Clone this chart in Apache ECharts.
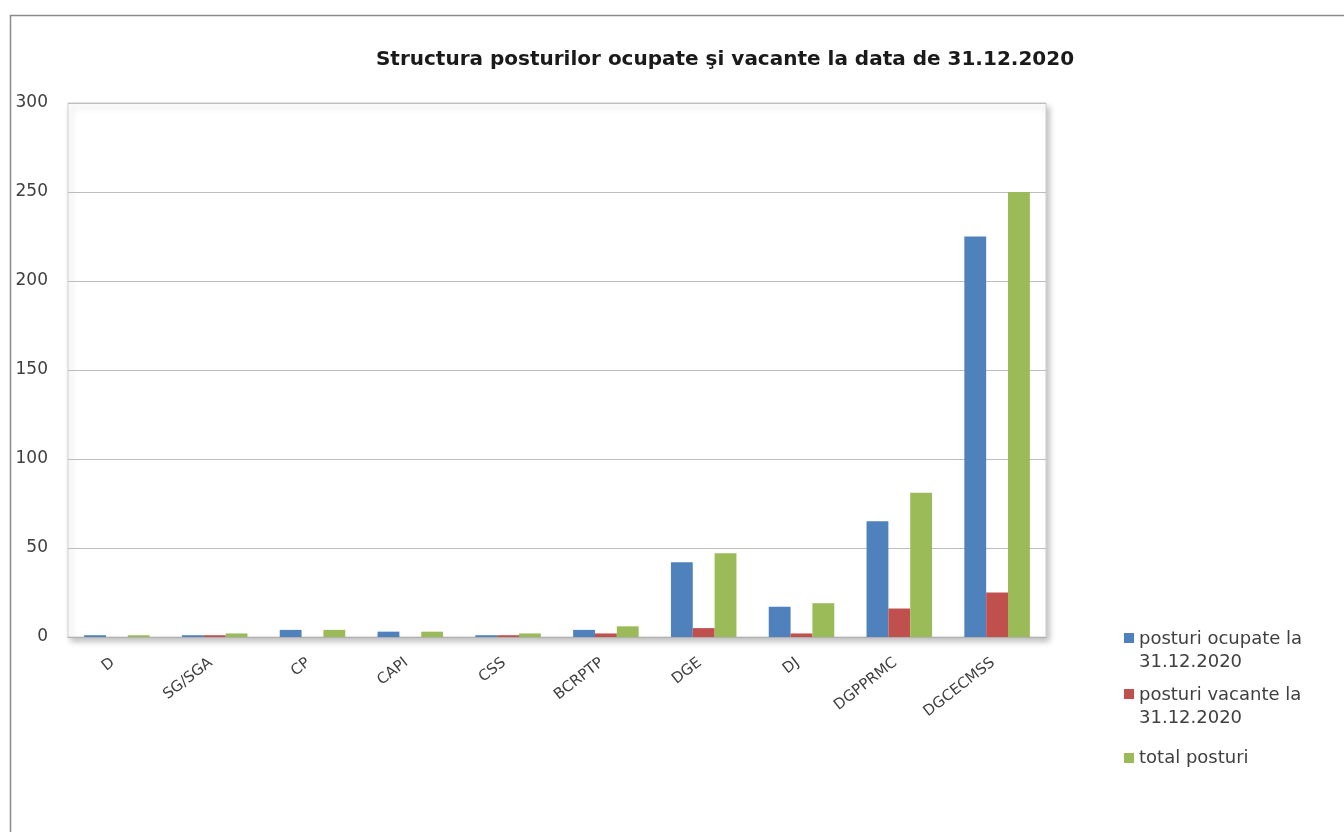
<!DOCTYPE html>
<html>
<head>
<meta charset="utf-8">
<script src="https://cdn.jsdelivr.net/npm/echarts@6/dist/echarts.min.js"></script>
<style>html,body{margin:0;padding:0;background:#fff;}#c{width:1344px;height:832px;}</style>
</head>
<body>
<div id="c"></div>
<script>
const categories = ['D','SG/SGA','CP','CAPI','CSS','BCRPTP','DGE','DJ','DGPPRMC','DGCECMSS'];
const ocupate = [1,1,4,3,1,4,42,17,65,225];
const vacante = [0,1,0,0,1,2,5,2,16,25];
const total = [1,2,4,3,2,6,47,19,81,250];
const yTicks = [0,50,100,150,200,250,300];
const seriesNames = ['posturi ocupate la 31.12.2020','posturi vacante la 31.12.2020','total posturi'];
const colors = ['#4F81BD','#C0504D','#9BBB59'];

// legend marker: square at top of a tall (invisible) box for two-line items
const topSquare = 'path://M0,0L10,0L10,10L0,10Z M0,36L0.01,36';
const midSquare = 'path://M0,13L10,13L10,23L0,23Z M0,0L0.01,0 M0,36L0.01,36';

const chart = echarts.init(document.getElementById('c'));
const font = '"DejaVu Sans", sans-serif';
chart.setOption({
  animation: false,
  backgroundColor: '#fff',
  graphic: [{
    type: 'rect', left: 8, top: 13, shape: {width: 1345, height: 830},
    style: {fill: 'none', stroke: '#8a8a8a', lineWidth: 1.5}, z: -1
  }],
  title: {
    text: 'Structura posturilor ocupate şi vacante la data de 31.12.2020',
    left: 720, top: 45, textAlign: 'center',
    textStyle: {fontFamily: font, fontWeight: 'bold', fontSize: 20, color: '#1a1a1a'}
  },
  legend: {
    orient: 'vertical', left: 1119, top: 623, itemWidth: 10, itemHeight: 36, itemGap: 10,
    data: [
      {name: seriesNames[0], icon: topSquare},
      {name: seriesNames[1], icon: topSquare},
      {name: seriesNames[2], icon: midSquare}
    ],
    formatter: n => n.replace(' la ', ' la\n'),
    textStyle: {fontFamily: font, fontSize: 18, color: '#404040', lineHeight: 23}
  },
  grid: {
    left: 68, right: 298, top: 103, bottom: 195, containLabel: false,
    show: true, backgroundColor: '#fff', borderColor: '#d0d0d0', borderWidth: 1,
    shadowColor: 'rgba(0,0,0,0.25)', shadowBlur: 6, shadowOffsetX: 3, shadowOffsetY: 4
  },
  xAxis: {
    type: 'category', data: categories,
    axisLine: {show: true, lineStyle: {color: '#b0b0b0'}},
    axisTick: {show: false},
    axisLabel: {rotate: 38, margin: 21, padding: [0, 5, 0, 0], interval: 0, fontFamily: font, fontSize: 15, color: '#404040'}
  },
  yAxis: {
    type: 'value', min: yTicks[0], max: yTicks[yTicks.length-1], interval: 50,
    axisLine: {show: false}, axisTick: {show: false},
    splitLine: {lineStyle: {color: '#bdbdbd'}},
    axisLabel: {margin: 20, fontFamily: font, fontSize: 17, color: '#404040'}
  },
  series: [
    {name: seriesNames[0], type: 'bar', data: ocupate, itemStyle: {color: colors[0]}, barGap: '0%', barCategoryGap: '33%'},
    {name: seriesNames[1], type: 'bar', data: vacante, itemStyle: {color: colors[1]}},
    {name: seriesNames[2], type: 'bar', data: total, itemStyle: {color: colors[2]}}
  ]
});
</script>
</body>
</html>
